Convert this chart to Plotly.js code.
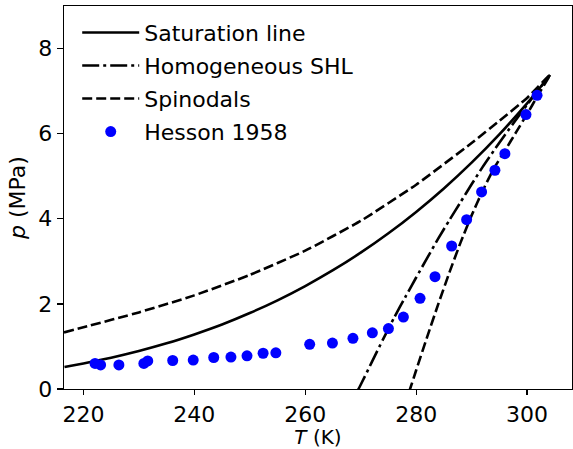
<!DOCTYPE html>
<html>
<head>
<meta charset="utf-8">
<script src="https://cdn.plot.ly/plotly-3.0.1.min.js"></script>
<style>html,body{margin:0;padding:0;background:#fff;}#chart{width:573px;height:449px;}</style>
</head>
<body>
<div id="chart"></div>
<script>
// Saturation line (CO2 vapour pressure)
var satT = [216.59, 220, 225, 230, 235, 240, 245, 250, 255, 260, 265, 270, 275, 280, 285, 290, 295, 300, 302, 304.13];
var satP = [0.518, 0.600, 0.736, 0.893, 1.073, 1.283, 1.516, 1.785, 2.084, 2.419, 2.791, 3.203, 3.659, 4.161, 4.712, 5.318, 5.982, 6.713, 7.025, 7.377];

// Homogeneous superheat limit
var shlT = [269.4, 270, 272, 274, 276, 278, 280, 282, 284, 286, 288, 290, 292, 294, 296, 298, 300, 302, 304.13];
var shlP = [-0.05, 0.10, 0.63, 1.16, 1.67, 2.15, 2.62, 3.08, 3.54, 3.97, 4.39, 4.81, 5.22, 5.60, 5.97, 6.33, 6.68, 7.02, 7.38];

// Spinodals: vapour branch (upper) then liquid branch (lower)
var spinVapT = [216.5, 220, 230, 240, 250, 260, 270, 280, 290, 295, 300, 304.13];
var spinVapP = [1.33, 1.45, 1.80, 2.20, 2.68, 3.25, 3.95, 4.80, 5.78, 6.30, 6.84, 7.38];
var spinLiqT = [304.13, 302, 300, 298, 296, 294, 292, 290, 288, 286, 284, 282, 280, 278.9, 278.5];
var spinLiqP = [7.38, 6.91, 6.46, 6.03, 5.60, 5.18, 4.66, 4.08, 3.44, 2.74, 2.0, 1.23, 0.44, 0.0, -0.16];

// Hesson 1958 measurements
var hessonT = [222.1, 223.1, 226.4, 230.9, 231.6, 236.1, 239.8, 243.5, 246.6, 249.5, 252.4, 254.7, 260.8, 264.9, 268.6, 272.1, 275.0, 277.7, 280.7, 283.4, 286.4, 289.1, 291.8, 294.2, 296.0, 299.8, 301.8];
var hessonP = [0.60, 0.565, 0.565, 0.60, 0.66, 0.67, 0.68, 0.74, 0.75, 0.78, 0.84, 0.85, 1.05, 1.08, 1.19, 1.32, 1.42, 1.69, 2.13, 2.64, 3.36, 3.98, 4.63, 5.14, 5.53, 6.45, 6.90];

var spinT = spinVapT.concat(spinLiqT.slice(1));
var spinP = spinVapP.concat(spinLiqP.slice(1));

var font = {family: "DejaVu Sans, sans-serif", size: 22, color: "#000"};
var xTitleFont = {family: "DejaVu Sans, sans-serif", size: 20, color: "#000"};

var traces = [
  {x: satT, y: satP, mode: "lines", name: "Saturation line", legendgroup: "a",
   line: {color: "#000", width: 2.6, shape: "spline", smoothing: 0.6}},
  {x: shlT, y: shlP, mode: "lines", name: "Homogeneous SHL", legendgroup: "b",
   line: {color: "#000", width: 2.6, dash: "17px,4px,3px,4px", shape: "spline", smoothing: 0.6}},
  {x: spinT, y: spinP, mode: "lines", name: "Spinodals", legendgroup: "c",
   line: {color: "#000", width: 2.6, dash: "10px,4px", shape: "spline", smoothing: 0.4}},
  {x: hessonT, y: hessonP, mode: "markers", name: "Hesson 1958", legendgroup: "d",
   marker: {color: "#0000ff", size: 11}}
];

var layout = {
  width: 573, height: 449,
  margin: {l: 64, r: 1, t: 6, b: 60},
  paper_bgcolor: "#fff", plot_bgcolor: "#fff",
  font: font,
  showlegend: true,
  legend: {x: 0.026, y: 0.985, xanchor: "left", yanchor: "top", bgcolor: "rgba(0,0,0,0)",
           borderwidth: 0, font: font, itemwidth: 57, traceorder: "grouped", tracegroupgap: 1.4},
  xaxis: {
    range: [216.5, 308.1], tick0: 220, dtick: 20, ticks: "outside", ticklen: 5, tickwidth: 1.3,
    tickcolor: "#000", showline: true, linecolor: "#000", linewidth: 1.3, mirror: true,
    showgrid: false, zeroline: false, tickfont: font,
    title: {text: "<i>T</i> (K)", font: xTitleFont, standoff: 4}
  },
  yaxis: {
    range: [0, 9], tick0: 0, dtick: 2, ticks: "outside", ticklen: 6, tickwidth: 1.3,
    tickcolor: "#000", showline: true, linecolor: "#000", linewidth: 1.3, mirror: true,
    showgrid: false, zeroline: false, tickfont: font,
    title: {text: "<i>p</i> (MPa)", font: font, standoff: 6}
  }
};

Plotly.newPlot("chart", traces, layout, {displayModeBar: false, staticPlot: true});
</script>
</body>
</html>
